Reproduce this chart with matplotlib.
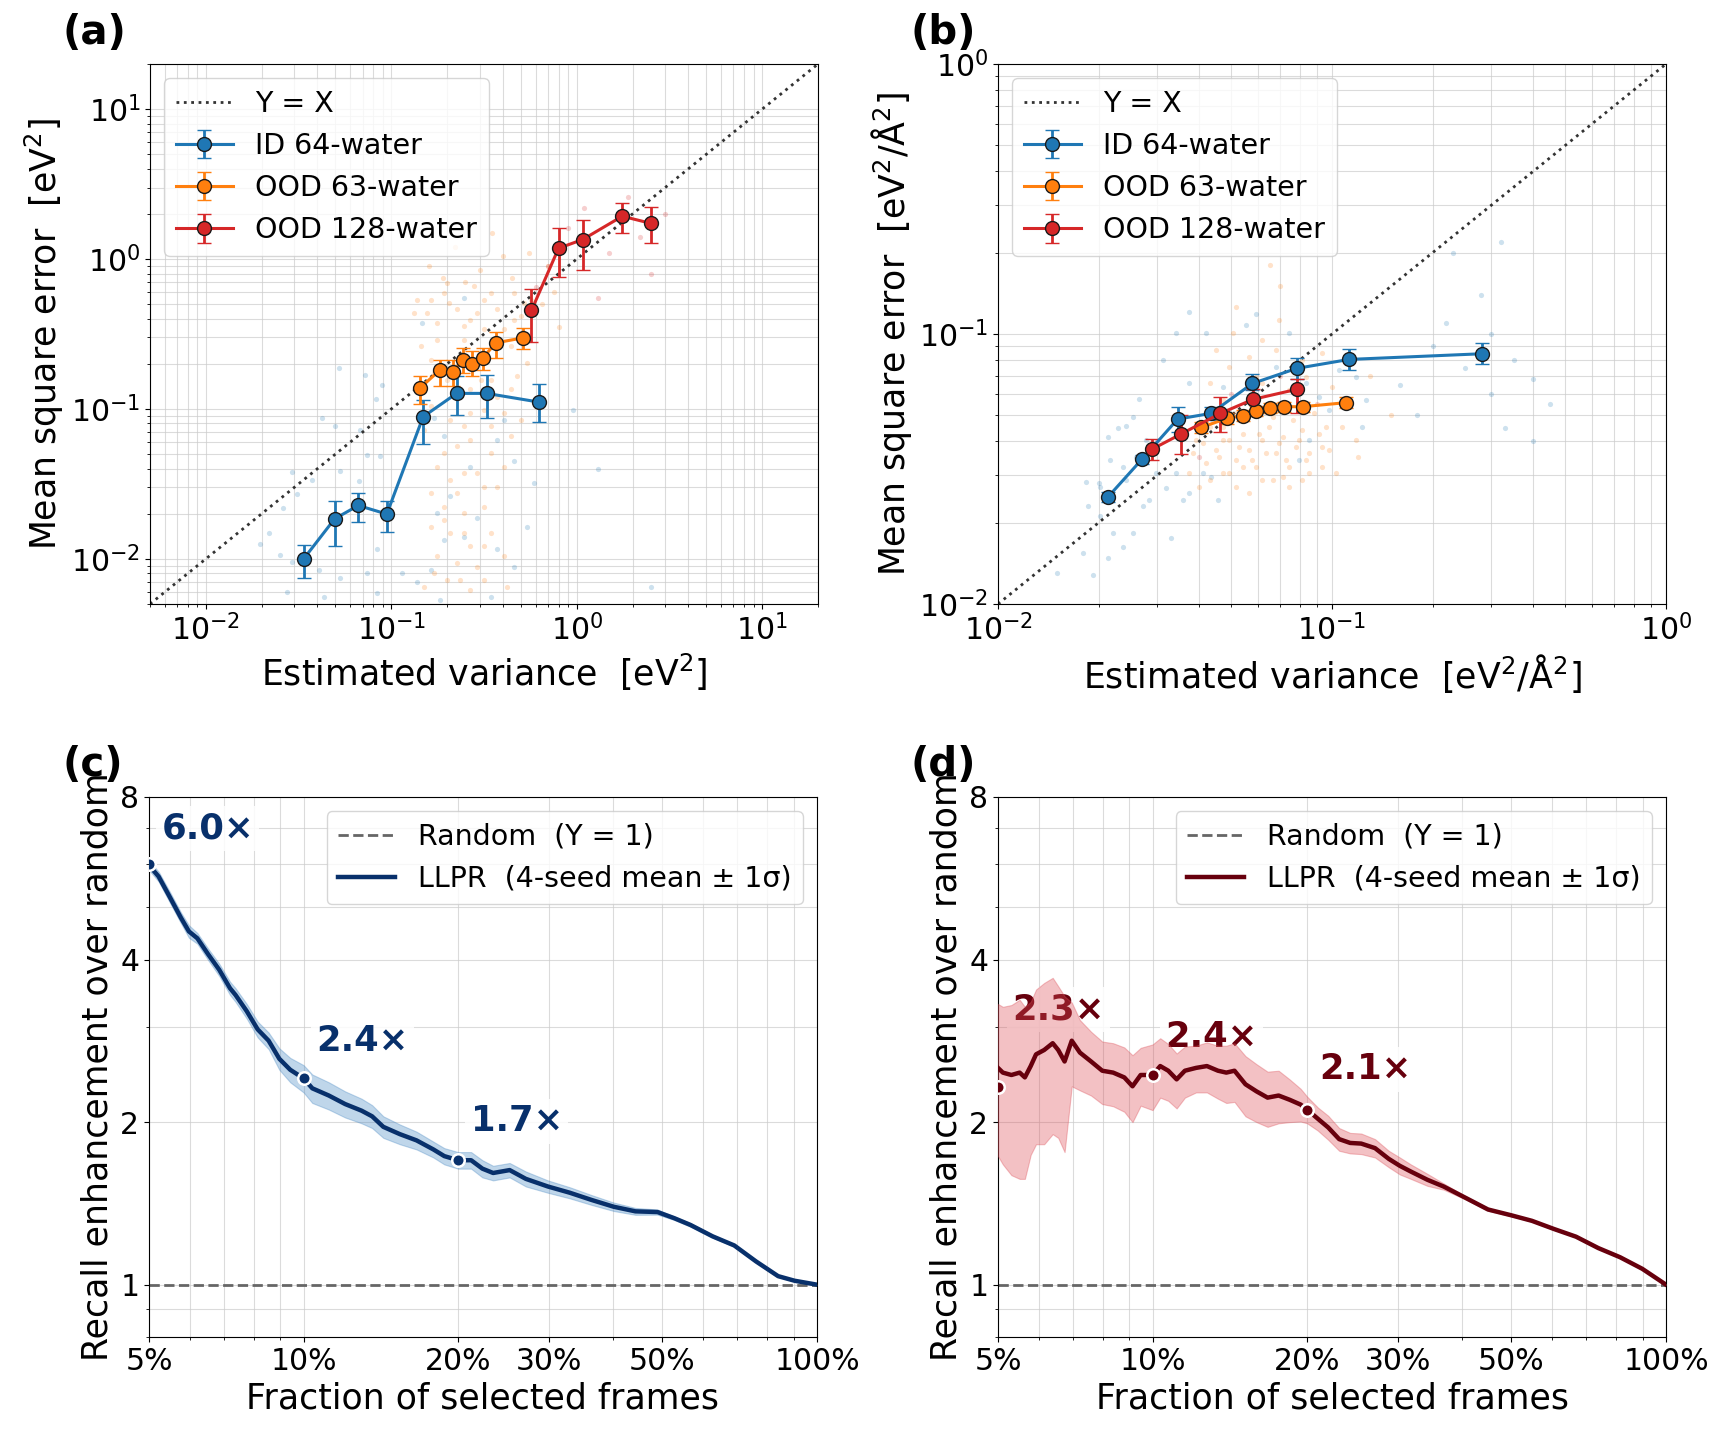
import matplotlib
matplotlib.use("Agg")
import matplotlib.pyplot as plt
import numpy as np
from matplotlib.ticker import FixedLocator, FixedFormatter, NullFormatter

# ---------------- panel (a): energy calibration ----------------
a_id_x = [0.0337, 0.0495, 0.0664, 0.0946, 0.1485, 0.225, 0.327, 0.629]
a_id_y = [0.0100, 0.0185, 0.0227, 0.0199, 0.0887, 0.127, 0.127, 0.111]
a_id_lo = [0.0075, 0.0121, 0.0175, 0.0150, 0.0585, 0.0906, 0.0875, 0.0815]
a_id_hi = [0.0124, 0.0245, 0.0277, 0.0245, 0.114, 0.165, 0.168, 0.146]

a_63_x = [0.142, 0.184, 0.215, 0.243, 0.272, 0.312, 0.366, 0.513]
a_63_y = [0.137, 0.183, 0.177, 0.213, 0.201, 0.219, 0.276, 0.298]
a_63_lo = [0.108, 0.143, 0.142, 0.175, 0.165, 0.183, 0.219, 0.252]
a_63_hi = [0.167, 0.213, 0.212, 0.255, 0.243, 0.255, 0.325, 0.347]

a_128_x = [0.570, 0.798, 1.078, 1.76, 2.51]
a_128_y = [0.454, 1.18, 1.35, 1.93, 1.73]
a_128_lo = [0.280, 0.764, 0.85, 1.50, 1.28]
a_128_hi = [0.627, 1.62, 1.82, 2.35, 2.21]

# per-frame clouds (a)
a_id_pts_x = [0.052, 0.0724, 0.0828, 0.0891, 0.0423, 0.0499, 0.0291, 0.0373, 0.0531, 0.0667,
              0.0740, 0.0873, 0.0681, 0.0262, 0.0218, 0.0252, 0.0291, 0.0406, 0.0531, 0.0740,
              0.0838, 0.114, 0.138, 0.163, 0.192, 0.246, 0.290, 0.372, 0.458, 0.177,
              0.208, 0.267, 0.372, 0.458, 0.541, 0.587, 0.405, 0.169, 0.192, 0.0274,
              0.0432, 0.0838, 0.184, 0.343, 0.246, 0.147, 0.95, 2.5, 1.3, 0.0195, 0.031]
a_id_pts_y = [0.188, 0.169, 0.116, 0.145, 0.0869, 0.0766, 0.0377, 0.0337, 0.0386, 0.0333,
              0.0495, 0.0482, 0.0726, 0.0220, 0.0148, 0.0106, 0.00958, 0.00842, 0.00748, 0.0080,
              0.0117, 0.0080, 0.00703, 0.00842, 0.0134, 0.0141, 0.0187, 0.0117, 0.00887, 0.0201,
              0.0261, 0.0413, 0.0622, 0.0447, 0.0164, 0.0320, 0.0847, 0.0869, 0.0656, 0.00604,
              0.00559, 0.00588, 0.00531, 0.00559, 0.551, 0.375, 0.098, 0.0065, 0.04, 0.0125, 0.027]
a_63_pts_x = [0.132, 0.163, 0.192, 0.226, 0.267, 0.315, 0.372, 0.458, 0.498, 0.564,
              0.177, 0.246, 0.315, 0.440, 0.541, 0.144, 0.163, 0.200, 0.267, 0.343,
              0.440, 0.163, 0.208, 0.246, 0.315, 0.405, 0.498, 0.226, 0.267, 0.343,
              0.440, 0.177, 0.208, 0.246, 0.315, 0.192, 0.246, 0.315, 0.163, 0.208,
              0.267, 0.343, 0.177, 0.226, 0.290, 0.405, 0.150, 0.200, 0.267, 0.246,
              0.279, 0.200, 0.16, 0.22, 0.30, 0.40, 0.45, 0.25, 0.35, 0.19, 0.55,
              0.70, 0.75, 0.65, 0.80,
              0.138, 0.156, 0.177, 0.204, 0.246, 0.290, 0.343, 0.405, 0.458, 0.519,
              0.169, 0.236, 0.303, 0.372, 0.478, 0.150, 0.192, 0.267, 0.343, 0.405,
              0.163, 0.226, 0.290, 0.372, 0.246, 0.192, 0.315, 0.169, 0.236, 0.315, 0.422]
a_63_pts_y = [0.438, 0.537, 0.595, 0.461, 0.395, 0.537, 0.461, 0.595, 0.416, 0.537,
              0.290, 0.290, 0.339, 0.262, 0.203, 0.262, 0.213, 0.157, 0.135, 0.157,
              0.135, 0.104, 0.0847, 0.0766, 0.0989, 0.094, 0.0847, 0.0562, 0.0622, 0.0507,
              0.0656, 0.0413, 0.0337, 0.0373, 0.0303, 0.0223, 0.0201, 0.0223, 0.0164, 0.0148,
              0.0121, 0.0148, 0.0104, 0.00933, 0.00887, 0.0104, 0.00652, 0.00722, 0.0062, 0.203,
              0.659, 0.695, 0.9, 1.2, 0.85, 1.05, 0.75, 0.7, 1.5, 0.75, 1.1,
              0.9, 0.6, 0.5, 0.35,
              0.537, 0.438, 0.375, 0.510, 0.356, 0.438, 0.595, 0.339, 0.395, 0.510,
              0.174, 0.135, 0.157, 0.121, 0.165, 0.0726, 0.0507, 0.094, 0.0766, 0.0413,
              0.0274, 0.0274, 0.0373, 0.0303, 0.0148, 0.0182, 0.0121, 0.0080, 0.00722, 0.00722, 0.00652]
a_128_pts_x = [1.9, 2.5, 1.3, 0.9, 1.5, 2.2, 0.7, 1.1, 3.0, 0.6]
a_128_pts_y = [2.6, 0.8, 0.55, 1.6, 1.1, 1.4, 0.9, 2.2, 2.0, 0.65]

# ---------------- panel (b): force calibration ----------------
b_id_x = [0.0214, 0.0270, 0.0345, 0.0434, 0.0578, 0.0785, 0.1125, 0.281]
b_id_y = [0.0250, 0.0344, 0.0484, 0.0508, 0.0656, 0.0746, 0.0805, 0.0845]
b_id_lo = [0.0239, 0.0330, 0.0435, 0.0480, 0.0621, 0.0679, 0.0736, 0.0775]
b_id_hi = [0.0261, 0.0356, 0.0535, 0.0537, 0.0714, 0.0813, 0.0877, 0.0930]

b_63_x = [0.0406, 0.0485, 0.0540, 0.0592, 0.0653, 0.0716, 0.0817, 0.1104]
b_63_y = [0.0451, 0.0487, 0.0499, 0.0519, 0.0531, 0.0538, 0.0538, 0.0557]
b_63_lo = [0.0430, 0.0466, 0.0478, 0.0498, 0.0510, 0.0516, 0.0515, 0.0530]
b_63_hi = [0.0473, 0.0509, 0.0521, 0.0541, 0.0553, 0.0561, 0.0562, 0.0585]

b_128_x = [0.0290, 0.0353, 0.0463, 0.0581, 0.0785]
b_128_y = [0.0375, 0.0426, 0.0508, 0.0573, 0.0624]
b_128_lo = [0.0341, 0.0358, 0.0432, 0.0505, 0.0508]
b_128_hi = [0.0407, 0.0500, 0.0586, 0.0625, 0.0679]

b_id_pts_x = [0.0184, 0.0200, 0.0186, 0.0202, 0.0213, 0.0229, 0.0242, 0.0254, 0.0265, 0.0216,
              0.0237, 0.0259, 0.0278, 0.0291, 0.0298, 0.0319, 0.0341, 0.0357, 0.0330, 0.0374,
              0.0410, 0.0435, 0.0193, 0.0213, 0.0180, 0.0237, 0.0254, 0.0221, 0.0312, 0.0341,
              0.0374, 0.0374, 0.0420, 0.0471, 0.0552, 0.0592, 0.0744, 0.0679, 0.0834, 0.0914,
              0.098, 0.105, 0.118, 0.123, 0.126, 0.0455, 0.0284, 0.0272, 0.0202, 0.0242,
              0.0796, 0.0853, 0.16, 0.20, 0.25, 0.30, 0.35, 0.40, 0.45, 0.22,
              0.28, 0.33, 0.40, 0.18, 0.23, 0.30, 0.015, 0.32]
b_id_pts_y = [0.0284, 0.0281, 0.0230, 0.0211, 0.0417, 0.0448, 0.0456, 0.0494, 0.0573, 0.0341,
              0.0323, 0.0351, 0.0405, 0.0383, 0.0305, 0.0268, 0.0305, 0.0243, 0.0175, 0.0257,
              0.0305, 0.0296, 0.0128, 0.0148, 0.0154, 0.0163, 0.0183, 0.0183, 0.0802, 0.101,
              0.121, 0.0656, 0.101, 0.0638, 0.108, 0.119, 0.101, 0.0757, 0.0656, 0.0586,
              0.0523, 0.0736, 0.0695, 0.0454, 0.057, 0.0243, 0.0243, 0.0230, 0.0272, 0.0288,
              0.0341, 0.0405, 0.065, 0.09, 0.075, 0.06, 0.08, 0.068, 0.055, 0.11,
              0.14, 0.045, 0.04, 0.05, 0.2, 0.1, 0.013, 0.22]
b_63_pts_x = [0.0374, 0.0401, 0.0420, 0.0450, 0.0471, 0.0493, 0.0515, 0.0540, 0.0565, 0.0592,
              0.0619, 0.0648, 0.0679, 0.0711, 0.0744, 0.0778, 0.0815, 0.0853, 0.0914, 0.098,
              0.1026, 0.0471, 0.0515, 0.0565, 0.0619, 0.0679, 0.0744, 0.0834, 0.0450, 0.0504,
              0.0619, 0.0695, 0.0515, 0.0935, 0.0410, 0.0383, 0.0565, 0.0664, 0.0744, 0.0853,
              0.0515, 0.0592, 0.0430, 0.0471, 0.107, 0.118, 0.100, 0.0392, 0.065, 0.07,
              0.13, 0.15, 0.12,
              0.0392, 0.0430, 0.0460, 0.0493, 0.0528, 0.0552, 0.0578, 0.0605, 0.0634, 0.0664,
              0.0695, 0.0728, 0.0762, 0.0796, 0.0834, 0.0883, 0.0935, 0.0957, 0.0471, 0.0540,
              0.0619, 0.0711, 0.0815, 0.0935, 0.0430, 0.0493, 0.0565, 0.0679, 0.0815, 0.045]
b_63_pts_y = [0.0305, 0.0272, 0.0332, 0.0372, 0.0305, 0.0405, 0.0341, 0.0428, 0.0372, 0.0323,
              0.0405, 0.0454, 0.0361, 0.0417, 0.0323, 0.0383, 0.0442, 0.0361, 0.0428, 0.0372,
              0.0305, 0.0454, 0.0508, 0.0570, 0.0656, 0.0538, 0.0621, 0.0695, 0.0873, 0.101,
              0.095, 0.113, 0.126, 0.0847, 0.0394, 0.0361, 0.0257, 0.0288, 0.0272, 0.0305,
              0.0272, 0.0695, 0.0656, 0.0570, 0.0454, 0.0405, 0.0638, 0.0454, 0.18, 0.15,
              0.07, 0.05, 0.035,
              0.0405, 0.0454, 0.0351, 0.0305, 0.0383, 0.0481, 0.0341, 0.0428, 0.0361, 0.0494,
              0.0394, 0.0341, 0.0481, 0.0405, 0.0341, 0.0508, 0.0383, 0.0454, 0.0405, 0.0323,
              0.0288, 0.0296, 0.0288, 0.0323, 0.0288, 0.0757, 0.0824, 0.0873, 0.0802, 0.0523]
b_128_pts_x = [0.03, 0.05, 0.07, 0.04, 0.09]
b_128_pts_y = [0.04, 0.06, 0.07, 0.035, 0.055]

# ---------------- panels (c, d): recall enhancement ----------------
c_frac = [5.0, 5.22, 5.49, 5.77, 5.98, 6.21, 6.52, 6.85, 7.19, 7.37, 7.75, 8.14, 8.55, 8.97,
          9.42, 10.0, 10.4, 11.2, 12.05, 12.97, 13.6, 14.3, 15.4, 16.6, 17.9, 18.8, 20.0,
          21.2, 22.3, 23.4, 25.2, 27.1, 29.9, 33.0, 36.4, 40.2, 44.3, 48.9, 52.7, 56.7,
          62.6, 69.0, 76.1, 84.0, 90.4, 100.0]
c_mean = [5.98, 5.70, 5.22, 4.78, 4.51, 4.38, 4.09, 3.83, 3.54, 3.44, 3.21, 2.97, 2.83, 2.62,
          2.50, 2.41, 2.31, 2.24, 2.16, 2.10, 2.05, 1.96, 1.90, 1.85, 1.78, 1.73, 1.70,
          1.70, 1.64, 1.61, 1.63, 1.57, 1.52, 1.48, 1.435, 1.394, 1.367, 1.363, 1.328, 1.290,
          1.229, 1.182, 1.104, 1.037, 1.017, 1.0]
c_std = [0.12, 0.12, 0.12, 0.11, 0.12, 0.10, 0.10, 0.10, 0.10, 0.10, 0.10, 0.10, 0.10, 0.12,
         0.13, 0.14, 0.14, 0.13, 0.12, 0.11, 0.10, 0.09, 0.08, 0.07, 0.06, 0.06, 0.06,
         0.06, 0.06, 0.05, 0.05, 0.05, 0.04, 0.035, 0.03, 0.025, 0.02, 0.015, 0.01, 0.01,
         0.008, 0.006, 0.005, 0.004, 0.003, 0.0]
c_mark_x = [5, 10, 20]
c_mark_y = [6.0, 2.41, 1.70]
c_labels = ["6.0×", "2.4×", "1.7×"]

d_frac = [5.0, 5.11, 5.31, 5.51, 5.64, 5.79, 5.93, 6.15, 6.39, 6.55, 6.74, 6.96, 7.22, 7.59,
          7.98, 8.38, 8.81, 9.14, 9.48, 10.0, 10.35, 10.73, 11.14, 11.56, 12.15, 12.76, 13.41,
          13.92, 14.44, 15.17, 15.94, 16.75, 17.60, 18.49, 19.43, 20.0, 20.97, 21.98, 23.09,
          24.26, 25.49, 27.12, 28.84, 30.31, 31.84, 34.30, 36.93, 40.77, 45.01, 50.0, 54.8,
          60.5, 66.8, 73.8, 81.4, 89.9, 100.0]
d_mean = [2.52, 2.47, 2.445, 2.47, 2.42, 2.54, 2.67, 2.72, 2.80, 2.72, 2.59, 2.83, 2.69, 2.59,
          2.49, 2.47, 2.42, 2.33, 2.445, 2.445, 2.54, 2.49, 2.40, 2.49, 2.52, 2.54, 2.49,
          2.47, 2.49, 2.35, 2.28, 2.22, 2.24, 2.20, 2.155, 2.11, 2.03, 1.955, 1.86,
          1.83, 1.825, 1.79, 1.71, 1.66, 1.62, 1.564, 1.519, 1.447, 1.378, 1.344, 1.313,
          1.268, 1.227, 1.169, 1.124, 1.070, 1.0]
d_std = [0.79, 0.80, 0.85, 0.90, 0.85, 0.80, 0.85, 0.90, 0.90, 0.85, 0.83, 0.50, 0.40, 0.35,
         0.33, 0.33, 0.33, 0.33, 0.30, 0.34, 0.32, 0.30, 0.28, 0.27, 0.25, 0.27, 0.28,
         0.30, 0.31, 0.30, 0.28, 0.26, 0.25, 0.20, 0.15, 0.12, 0.10, 0.10, 0.09,
         0.08, 0.08, 0.07, 0.06, 0.06, 0.05, 0.04, 0.02, 0.01, 0.008, 0.006, 0.005,
         0.004, 0.004, 0.003, 0.003, 0.002, 0.0]
d_mark_x = [5, 10, 20]
d_mark_y = [2.32, 2.45, 2.11]
d_labels = ["2.3×", "2.4×", "2.1×"]

frac_ticks = [5, 10, 20, 30, 50, 100]
frac_ticklabels = ["5%", "10%", "20%", "30%", "50%", "100%"]
enh_ticks = [1, 2, 4, 8]

BLUE, ORANGE, RED = "#1f77b4", "#ff7f0e", "#d62728"
TICK_FS, LABEL_FS, LEG_FS = 21.5, 25, 20.5

plt.rcParams["font.family"] = ["DejaVu Sans"]
fig = plt.figure(figsize=(17.25, 14.35), dpi=100)

W, H = 1725, 1435


def box(left, top, w=668, h=540):
    return [left / W, 1 - (top + h) / H, w / W, h / H]


ax_a = fig.add_axes(box(150, 64))
ax_b = fig.add_axes(box(998, 64))
ax_c = fig.add_axes(box(149, 797))
ax_d = fig.add_axes(box(998, 797))


def calib(ax, lim, series, clouds, xlabel, ylabel):
    ax.set_xscale("log")
    ax.set_yscale("log")
    for (px, py), col in clouds:
        ax.scatter(px, py, s=14, color=col, alpha=0.22, lw=0, zorder=1)
    ax.plot(lim, lim, ls=":", color="#333333", lw=2, label="Y = X", zorder=2)
    for x, y, lo, hi, col, lab in series:
        y = np.asarray(y)
        yerr = [y - np.asarray(lo), np.asarray(hi) - y]
        ax.errorbar(x, y, yerr=yerr, color=col, marker="o", ms=10, mec="#1a1a1a",
                    mew=1.0, lw=2.2, elinewidth=2, capsize=5, capthick=1.6,
                    label=lab, zorder=3)
    ax.set_xlim(lim)
    ax.set_ylim(lim)
    ax.grid(True, which="both", color="#cccccc", lw=0.8, alpha=0.7, zorder=0)
    ax.set_axisbelow(True)
    ax.tick_params(labelsize=TICK_FS)
    ax.set_xlabel(xlabel, fontsize=LABEL_FS)
    ax.set_ylabel(ylabel, fontsize=LABEL_FS)
    ax.legend(loc="upper left", fontsize=LEG_FS, framealpha=0.8)


calib(ax_a, [5e-3, 20],
      [(a_id_x, a_id_y, a_id_lo, a_id_hi, BLUE, "ID 64-water"),
       (a_63_x, a_63_y, a_63_lo, a_63_hi, ORANGE, "OOD 63-water"),
       (a_128_x, a_128_y, a_128_lo, a_128_hi, RED, "OOD 128-water")],
      [((a_id_pts_x, a_id_pts_y), BLUE), ((a_63_pts_x, a_63_pts_y), ORANGE),
       ((a_128_pts_x, a_128_pts_y), RED)],
      "Estimated variance  [eV$^2$]", "Mean square error  [eV$^2$]")

calib(ax_b, [1e-2, 1],
      [(b_id_x, b_id_y, b_id_lo, b_id_hi, BLUE, "ID 64-water"),
       (b_63_x, b_63_y, b_63_lo, b_63_hi, ORANGE, "OOD 63-water"),
       (b_128_x, b_128_y, b_128_lo, b_128_hi, RED, "OOD 128-water")],
      [((b_id_pts_x, b_id_pts_y), BLUE), ((b_63_pts_x, b_63_pts_y), ORANGE),
       ((b_128_pts_x, b_128_pts_y), RED)],
      "Estimated variance  [eV$^2$/Å$^2$]", "Mean square error  [eV$^2$/Å$^2$]")


def recall(ax, frac, mean, std, mx, my, labels, offsets, line_col, band_col):
    mean = np.asarray(mean)
    std = np.asarray(std)
    ax.set_xscale("log")
    ax.set_yscale("log")
    ax.axhline(1, color="#666666", ls="--", lw=2, label="Random  (Y = 1)", zorder=2)
    ax.fill_between(frac, mean - std, mean + std, color=band_col, alpha=0.35,
                    lw=0.8, zorder=3)
    ax.plot(frac, mean, color=line_col, lw=3.2,
            label="LLPR  (4-seed mean ± 1σ)", zorder=4)
    ax.plot(mx, my, "o", color=line_col, ms=9, mec="white", mew=1.8, zorder=5)
    for x, y, t, off in zip(mx, my, labels, offsets):
        ax.annotate(t, (x, y), xytext=off, textcoords="offset points",
                    ha="left", va="center", fontsize=25.5, fontweight="bold",
                    color=line_col, zorder=2.5,
                    bbox=dict(boxstyle="square,pad=0.15", fc="white", ec="none",
                              alpha=0.85))
    ax.set_xlim(5, 100)
    ax.set_ylim(0.8, 8)
    ax.xaxis.set_major_locator(FixedLocator(frac_ticks))
    ax.xaxis.set_major_formatter(FixedFormatter(frac_ticklabels))
    ax.xaxis.set_minor_formatter(NullFormatter())
    ax.yaxis.set_major_locator(FixedLocator(enh_ticks))
    ax.yaxis.set_major_formatter(FixedFormatter([str(v) for v in enh_ticks]))
    ax.yaxis.set_minor_formatter(NullFormatter())
    ax.grid(True, which="both", color="#cccccc", lw=0.8, alpha=0.7, zorder=0)
    ax.set_axisbelow(True)
    ax.tick_params(labelsize=TICK_FS)
    ax.set_xlabel("Fraction of selected frames", fontsize=LABEL_FS)
    ax.set_ylabel("Recall enhancement over random", fontsize=LABEL_FS)
    ax.legend(loc="upper right", fontsize=LEG_FS, framealpha=0.8)


recall(ax_c, c_frac, c_mean, c_std, c_mark_x, c_mark_y, c_labels,
       [(9, 26), (9, 27), (9, 28)], "#08306b", "#4a8ac4")
recall(ax_d, d_frac, d_mean, d_std, d_mark_x, d_mark_y, d_labels,
       [(10, 56), (9, 27), (9, 29)], "#67000d", "#dd4e57")

for lab, x, y in [("(a)", 63, 33), ("(b)", 911, 33), ("(c)", 62, 765), ("(d)", 911, 765)]:
    fig.text(x / W, 1 - y / H, lab, fontsize=29, fontweight="bold", ha="left", va="center")

fig.savefig("out.png", dpi=100)
